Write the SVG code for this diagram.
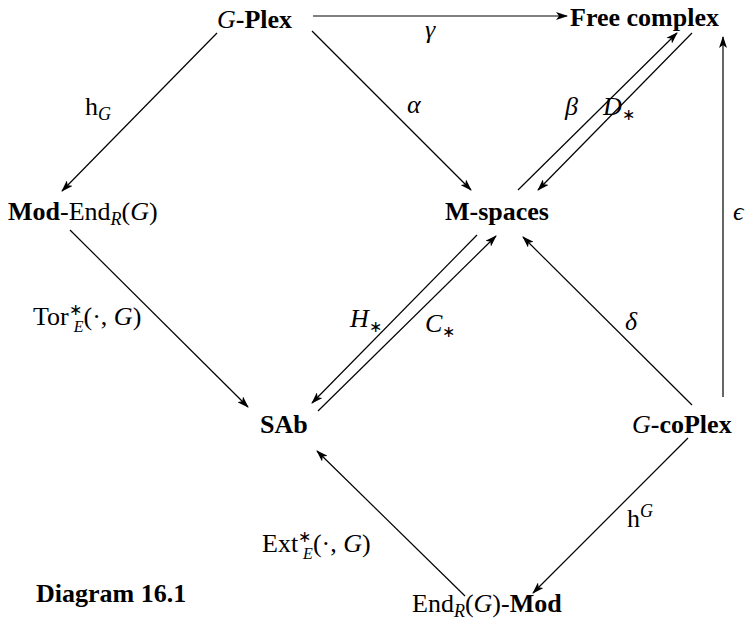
<svg xmlns="http://www.w3.org/2000/svg" width="745" height="627" viewBox="0 0 745 627">
<style>
text{font-family:"Liberation Serif","Times New Roman",serif;font-size:26px;fill:#000}
.b{font-weight:bold}
.i{font-style:italic}
.s{font-size:18px}
.t{font-size:16px}
line{stroke:#000;stroke-width:1.2;fill:none}
.a{marker-end:url(#ah)}
</style>
<defs>
<marker id="ah" viewBox="0 0 12 8" refX="11" refY="4" markerWidth="12" markerHeight="8" markerUnits="userSpaceOnUse" orient="auto">
<path d="M0,0 L12,4 L0,8 L3,4 z" fill="#000"/>
</marker>
</defs>
<g id="connectors">
<line class="a" x1="313" y1="16" x2="567" y2="16"/>
<line class="a" x1="217" y1="33" x2="62" y2="191"/>
<line class="a" x1="312" y1="31" x2="471" y2="190"/>
<line class="a" x1="518" y1="190" x2="677" y2="33"/>
<line class="a" x1="692" y1="33" x2="538" y2="190"/>
<line class="a" x1="723" y1="397" x2="723" y2="37"/>
<line class="a" x1="70" y1="230" x2="248" y2="407"/>
<line class="a" x1="477" y1="235" x2="312" y2="403"/>
<line class="a" x1="318" y1="411" x2="496" y2="236"/>
<line class="a" x1="692" y1="405" x2="523" y2="237"/>
<line class="a" x1="465" y1="596" x2="317" y2="451"/>
<line class="a" x1="688" y1="438" x2="533" y2="593"/>
</g>
<g id="labels">
<text class="i" x="425" y="38">γ</text>
<text x="85" y="115">h<tspan class="i s" dy="5">G</tspan></text>
<text class="i" x="407" y="113">α</text>
<text class="i" x="565" y="115">β</text>
<text x="603" y="115"><tspan class="i">D</tspan><tspan class="t" dy="5">∗</tspan></text>
<text class="i" x="733" y="220">ϵ</text>
<text x="33" y="325">Tor<tspan class="t" dy="-10">∗</tspan><tspan class="i t" dx="-8" dy="17">E</tspan><tspan dy="-7">(·, </tspan><tspan class="i">G</tspan>)</text>
<text x="350" y="327"><tspan class="i">H</tspan><tspan class="t" dy="5">∗</tspan></text>
<text x="425" y="332"><tspan class="i">C</tspan><tspan class="t" dy="5">∗</tspan></text>
<text class="i" x="625" y="330">δ</text>
<text x="262" y="552">Ext<tspan class="t" dy="-10">∗</tspan><tspan class="i t" dx="-8" dy="17">E</tspan><tspan dy="-7">(·, </tspan><tspan class="i">G</tspan>)</text>
<text x="627" y="527">h<tspan class="i s" dy="-10">G</tspan></text>
</g>
<g id="gplex"><text x="217" y="28"><tspan class="i">G</tspan><tspan class="b">-Plex</tspan></text></g>
<g id="free"><text class="b" x="570" y="26">Free complex</text></g>
<g id="modend"><text x="8" y="220"><tspan class="b">Mod</tspan>-End<tspan class="i s" dy="5">R</tspan><tspan dy="-5">(</tspan><tspan class="i">G</tspan>)</text></g>
<g id="mspaces"><text class="b" x="445" y="220">M-spaces</text></g>
<g id="sab"><text class="b" x="260" y="433">SAb</text></g>
<g id="gcoplex"><text x="632" y="433"><tspan class="i">G</tspan><tspan class="b">-coPlex</tspan></text></g>
<g id="endmod"><text x="412" y="612">End<tspan class="i s" dy="5">R</tspan><tspan dy="-5">(</tspan><tspan class="i">G</tspan>)-<tspan class="b">Mod</tspan></text></g>
<g id="caption"><text class="b" x="36" y="602">Diagram 16.1</text></g>
</svg>
